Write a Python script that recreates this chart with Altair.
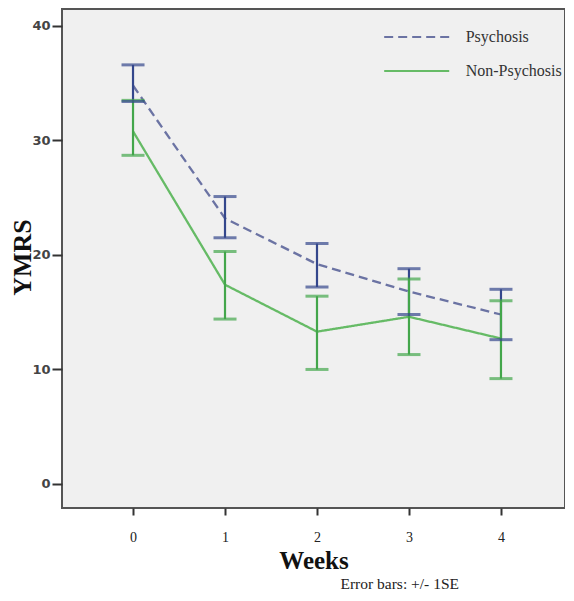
import altair as alt
import pandas as pd

weeks = [0, 1, 2, 3, 4]
groups = ["Psychosis", "Non-Psychosis"]
psy_mean = [34.8, 23.2, 19.2, 16.8, 14.8]
psy_upper = [36.6, 25.1, 21.0, 18.8, 17.0]
psy_lower = [33.4, 21.5, 17.2, 14.8, 12.6]
non_mean = [30.8, 17.4, 13.3, 14.6, 12.7]
non_upper = [33.5, 20.3, 16.4, 17.9, 16.0]
non_lower = [28.7, 14.4, 10.0, 11.3, 9.2]
y_ticks = [0, 10, 20, 30, 40]

rows = []
for g, m, u, l in [(groups[0], psy_mean, psy_upper, psy_lower),
                   (groups[1], non_mean, non_upper, non_lower)]:
    for w, mm, uu, ll in zip(weeks, m, u, l):
        rows.append({"group": g, "week": w, "mean": mm, "hi": uu, "lo": ll})
df = pd.DataFrame(rows)

serif = "Liberation Serif"

x_enc = alt.X("week:Q",
              scale=alt.Scale(domain=[-0.772, 4.696], nice=False, zero=False),
              axis=alt.Axis(values=weeks, format="d", title="Weeks",
                            titleFont=serif, titleFontSize=25, titleFontWeight="bold",
                            titleColor="#111", titlePadding=4,
                            labelFont=serif, labelFontSize=14, labelColor="#222",
                            labelPadding=15, tickSize=7, tickWidth=2, tickColor="#333",
                            domain=False, grid=False))

y_scale = alt.Scale(domain=[-2.10, 41.48], nice=False, zero=False)
y_axis = alt.Axis(values=y_ticks, format="d", title="YMRS",
                  titleFont=serif, titleFontSize=26, titleFontWeight="bold",
                  titleColor="#111", titleX=-40, titleY=248, titleAngle=270,
                  titleAlign="center", titleBaseline="middle",
                  labelFont="DejaVu Sans", labelFontSize=13, labelColor="#444",
                  labelFontWeight="bold",
                  labelPadding=2, tickSize=10, tickWidth=2, tickColor="#333",
                  domain=False, grid=False)

legend = alt.Legend(title=None, orient="none", legendX=342.7, legendY=16,
                    symbolType="M-3,0H3", symbolSize=470, symbolStrokeWidth=2,
                    labelFont=serif, labelFontSize=16, labelColor="#333",
                    labelOffset=37, rowPadding=14)

line_color = alt.Color("group:N",
                       scale=alt.Scale(domain=groups, range=["#6b73a3", "#66bb66"]),
                       legend=legend)
line_dash = alt.StrokeDash("group:N",
                           scale=alt.Scale(domain=groups, range=[[9, 5], [1, 0]]),
                           legend=legend)

base = alt.Chart(df)

lines = base.mark_line(strokeWidth=2.3).encode(
    x=x_enc,
    y=alt.Y("mean:Q", scale=y_scale, axis=y_axis),
    color=line_color,
    strokeDash=line_dash,
    order="week:Q",
)

bar_range = ["#34478c", "#43a64b"]

rules = base.mark_rule(strokeWidth=2.2).encode(
    x="week:Q",
    y=alt.Y("lo:Q", scale=y_scale),
    y2="hi:Q",
    stroke=alt.Stroke("group:N", scale=alt.Scale(domain=groups, range=bar_range), legend=None),
)
caps_hi = base.mark_tick(orient="horizontal", size=23, thickness=3).encode(
    x="week:Q",
    y=alt.Y("hi:Q", scale=y_scale),
    fill=alt.Fill("group:N", scale=alt.Scale(domain=groups, range=bar_range), legend=None),
)
caps_lo = base.mark_tick(orient="horizontal", size=23, thickness=3).encode(
    x="week:Q",
    y=alt.Y("lo:Q", scale=y_scale),
    fill=alt.Fill("group:N", scale=alt.Scale(domain=groups, range=bar_range), legend=None),
)

chart = alt.layer(lines, rules, caps_hi, caps_lo).properties(
    width=503,
    height=499,
    padding={"left": 54, "top": 1, "right": 0, "bottom": 84},
    autosize=alt.AutoSizeParams(type="none"),
    title=alt.TitleParams("Error bars: +/- 1SE", orient="bottom", anchor="end",
                          font=serif, fontSize=15.5, fontWeight="normal", color="#222",
                          dx=-106, offset=4),
).configure_view(
    fill="#f0f0f0", stroke="#555", strokeWidth=2
)

chart.save("out.html", embed_options={"renderer": "svg", "actions": False})
